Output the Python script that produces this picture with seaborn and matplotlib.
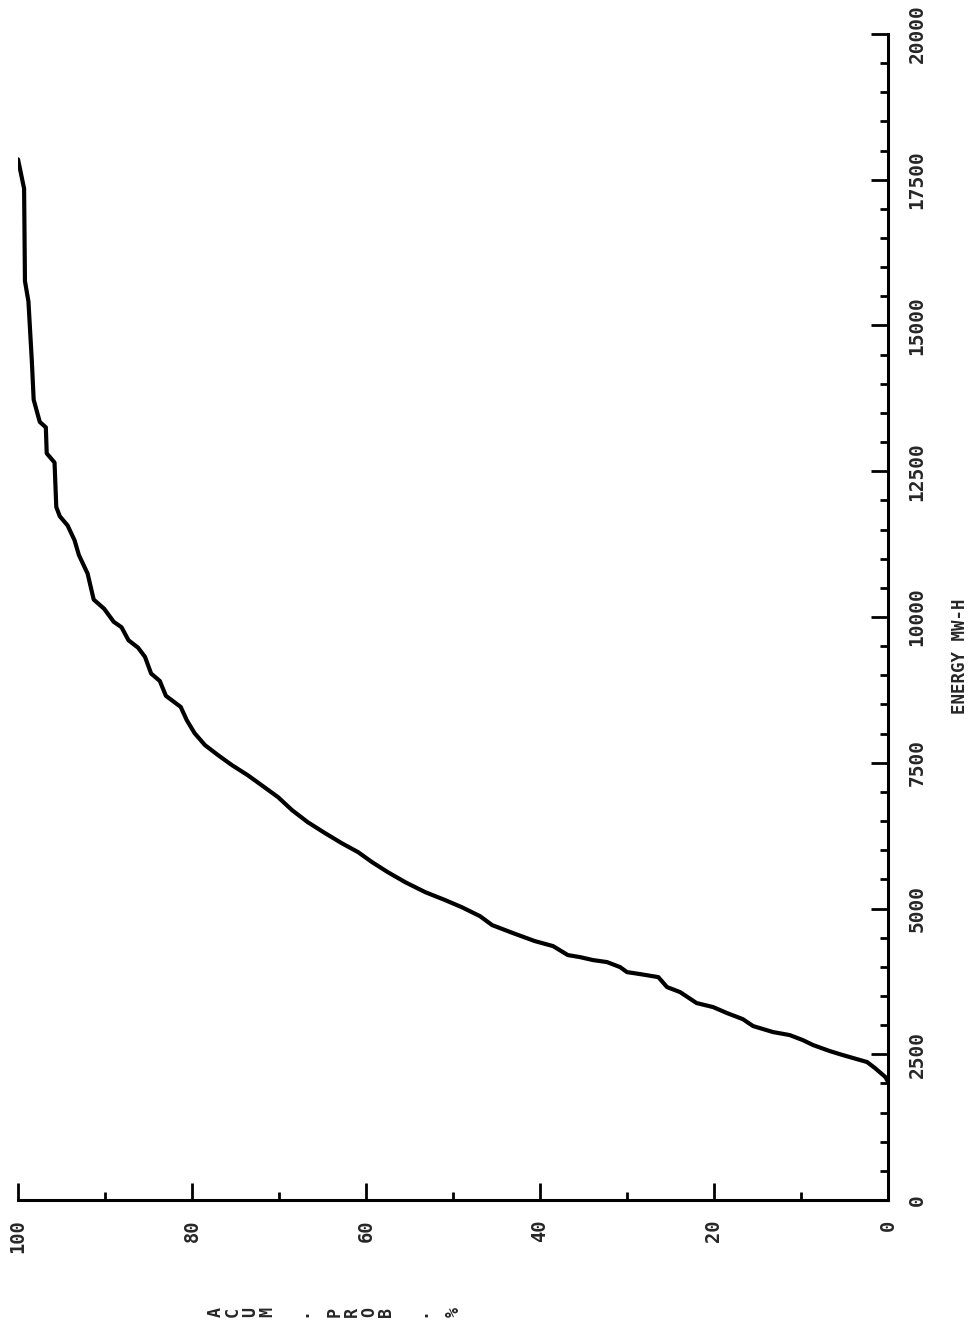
import matplotlib
matplotlib.use("Agg")
import matplotlib.pyplot as plt
from matplotlib.ticker import MultipleLocator, FixedLocator
import pandas as pd
import seaborn as sns

# Cumulative probability (%) against energy (MW-H)
cum_prob = [0.0, 0.3, 1.5, 2.4, 5.2, 6.7, 8.6, 9.8, 11.3, 13.2, 15.5, 16.7, 18.5,
            20.1, 22.0, 23.9, 25.4, 26.4, 28.5, 30.0, 30.8, 32.3, 33.9, 35.4, 36.8,
            38.5, 40.6, 43.1, 45.5, 46.9, 49.0, 50.9, 53.2, 55.5, 57.5, 59.3, 60.9,
            62.8, 64.7, 66.7, 68.5, 70.1, 72.0, 73.6, 75.4, 77.0, 78.5, 79.7, 80.6,
            81.3, 83.0, 83.7, 84.7, 85.4, 86.2, 87.3, 88.1, 89.0, 90.1, 91.3, 92.0,
            93.0, 93.5, 94.3, 95.2, 95.6, 95.8, 96.7, 96.8, 97.5, 98.2, 98.4, 98.8,
            99.2, 99.3, 100.0]
energy = [2030, 2109, 2263, 2366, 2486, 2555, 2657, 2743, 2829, 2880, 2983, 3103, 3206,
          3309, 3378, 3566, 3652, 3823, 3875, 3909, 3995, 4081, 4115, 4166, 4201,
          4355, 4441, 4578, 4715, 4869, 5023, 5144, 5281, 5452, 5624, 5795, 5966,
          6121, 6292, 6481, 6687, 6909, 7115, 7287, 7458, 7630, 7801, 8007, 8230,
          8458, 8648, 8903, 9030, 9315, 9474, 9601, 9824, 9918, 10141, 10299, 10745,
          11062, 11316, 11570, 11729, 11887, 12650, 12807, 13253, 13347, 13728, 14364, 15412,
          15761, 17349, 17850]

energy_ticks = [0, 2500, 5000, 7500, 10000, 12500, 15000, 17500, 20000]
prob_ticks = [0, 20, 40, 60, 80, 100]
energy_label = "ENERGY MW-H"
prob_label = "ACUM . PROB . %"

sns.set_style("ticks")
plt.rcParams["font.family"] = ["DejaVu Sans Mono", "DejaVu Sans"]
plt.rcParams["font.weight"] = "bold"
plt.rcParams["xtick.direction"] = "in"
plt.rcParams["ytick.direction"] = "in"

W, H = 973, 1329
fig = plt.figure(figsize=(W / 100, H / 100), dpi=100)
ax = fig.add_axes([18 / W, 1 - 1200 / H, 870 / W, 1166 / H])

df = pd.DataFrame({"prob": cum_prob, "energy": energy})
sns.lineplot(data=df, x="prob", y="energy", sort=False, estimator=None,
             color="black", linewidth=3.0, ax=ax)

ax.set_xlim(100, 0)
ax.set_ylim(0, 20000)

# axes frame: only the energy spine (right) and probability spine (bottom)
for side in ("top", "left"):
    ax.spines[side].set_visible(False)
for side in ("right", "bottom"):
    ax.spines[side].set_linewidth(2.2)
    ax.spines[side].set_color("black")

ax.yaxis.tick_right()
ax.yaxis.set_major_locator(FixedLocator(energy_ticks))
ax.yaxis.set_minor_locator(MultipleLocator(500))
ax.xaxis.set_major_locator(FixedLocator(prob_ticks))
ax.xaxis.set_minor_locator(MultipleLocator(10))
ax.set_yticklabels([str(v) for v in energy_ticks])
ax.set_xticklabels([str(v) for v in prob_ticks])

ax.tick_params(which="both", direction="in", color="black", width=2.0)
ax.tick_params(which="major", length=12)
ax.tick_params(which="minor", length=5.5)
ax.tick_params(axis="y", which="both", left=False, right=True,
               labelright=True, labelleft=False, pad=14, labelrotation=90,
               labelsize=14)
ax.tick_params(axis="x", which="both", bottom=True, top=False,
               pad=14, labelrotation=90, labelsize=13.5)
for lbl in ax.get_yticklabels():
    lbl.set_verticalalignment("center")
    lbl.set_horizontalalignment("left")

# energy axis title on the right
ax.yaxis.set_label_position("right")
ax.set_ylabel(energy_label, fontsize=12.5, fontweight="bold", rotation=90)
ax.yaxis.label.set_verticalalignment("center")
ax.yaxis.label.set_horizontalalignment("center")
ax.yaxis.set_label_coords((960 - 18) / 870, (1200 - 656) / 1166)

# probability axis title: characters stacked, turned with the page
ax.set_xlabel("\n".join(prob_label), fontsize=12, fontweight="bold",
              rotation=90, linespacing=0.93, multialignment="center")
ax.xaxis.label.set_verticalalignment("center")
ax.xaxis.label.set_horizontalalignment("center")
ax.xaxis.set_label_coords((335 - 18) / 870, (1200 - 1312) / 1166)

ax.set_facecolor("white")
fig.patch.set_facecolor("white")
fig.savefig("out.png", dpi=100)
